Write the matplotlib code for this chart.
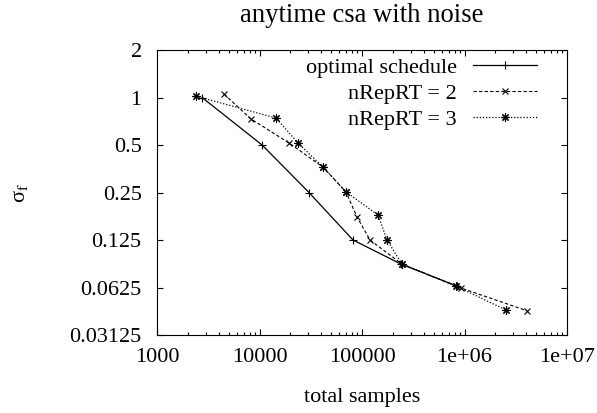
"""anytime csa with noise: sigma_f vs total samples (log-log, gnuplot look)."""

import matplotlib
matplotlib.use("Agg")
import matplotlib.pyplot as plt
from matplotlib.ticker import FixedLocator, FixedFormatter, LogLocator, NullLocator, NullFormatter

# optimal schedule
OPT_SAMPLES = [2750, 10600, 30400, 81700, 240000, 845000]
OPT_SIGMA = [1.0, 0.5, 0.25, 0.125, 0.088, 0.0638]

# nRepRT = 2
REP2_SAMPLES = [4510, 8260, 19400, 41650, 69800, 89400, 119700, 245600, 925000, 4070000]
REP2_SIGMA = [1.05, 0.731, 0.515, 0.362, 0.252, 0.175, 0.125, 0.088, 0.0620, 0.0445]

# nRepRT = 3
REP3_SAMPLES = [2400, 14490, 23750, 41650, 69800, 143300, 175400, 245600, 826000, 2540000]
REP3_SIGMA = [1.02, 0.741, 0.515, 0.362, 0.252, 0.180, 0.125, 0.088, 0.0638, 0.0450]

X_TICKS = [1e3, 1e4, 1e5, 1e6, 1e7]
X_TICKLABELS = ["1000", "10000", "100000", "1e+06", "1e+07"]
Y_TICKS = [2, 1, 0.5, 0.25, 0.125, 0.0625, 0.03125]
Y_TICKLABELS = ["2", "1", "0.5", "0.25", "0.125", "0.0625", "0.03125"]


def main():
    plt.rcParams.update({
        "font.family": ["Liberation Serif", "DejaVu Serif"],
        "mathtext.fontset": "stix",
        "font.size": 16,
    })

    fig = plt.figure(figsize=(5.97, 4.13), dpi=100)
    ax = fig.add_axes([157 / 597, 1 - 335 / 413, 410 / 597, 285 / 413])

    ax.plot(OPT_SAMPLES, OPT_SIGMA, color="black", linestyle="-", linewidth=0.9,
            marker="+", markersize=6, markeredgewidth=0.8, label="optimal schedule")
    ax.plot(REP2_SAMPLES, REP2_SIGMA, color="black", linestyle=(0, (3, 2)), linewidth=0.8,
            marker="x", markersize=5, markeredgewidth=0.8, label="nRepRT = 2")
    ax.plot(REP3_SAMPLES, REP3_SIGMA, color="black", linestyle=(0, (1, 1.5)), linewidth=0.9,
            marker=(8, 2, 0), markersize=6, markeredgewidth=0.8, label="nRepRT = 3")

    ax.set_xscale("log")
    ax.set_yscale("log", base=2)
    ax.set_xlim(1e3, 1e7)
    ax.set_ylim(0.03125, 2)

    ax.xaxis.set_major_locator(FixedLocator(X_TICKS))
    ax.xaxis.set_major_formatter(FixedFormatter(X_TICKLABELS))
    ax.xaxis.set_minor_locator(LogLocator(base=10, subs=range(2, 10), numticks=20))
    ax.xaxis.set_minor_formatter(NullFormatter())
    ax.yaxis.set_major_locator(FixedLocator(Y_TICKS))
    ax.yaxis.set_major_formatter(FixedFormatter(Y_TICKLABELS))
    ax.yaxis.set_minor_locator(NullLocator())

    ax.tick_params(which="both", direction="in", top=True, right=True, width=0.8)
    ax.tick_params(which="major", length=4)
    ax.tick_params(which="minor", length=2.2)
    ax.tick_params(axis="x", which="major", pad=9)
    ax.tick_params(axis="y", which="major", pad=11)
    for spine in ax.spines.values():
        spine.set_linewidth(0.8)

    ax.set_title("anytime csa with noise", pad=20)
    ax.set_xlabel("total samples")
    ax.xaxis.set_label_coords(0.5, -0.185)
    ax.set_ylabel("σ$_\\mathrm{f}$")
    ax.yaxis.set_label_coords(-0.31, 0.5)

    ax.legend(loc="upper right", bbox_to_anchor=(0.927, 0.975), frameon=False,
              markerfirst=False, handlelength=2.9, handletextpad=0.7,
              borderpad=0, borderaxespad=0, labelspacing=0.25)

    fig.savefig("out.png", dpi=100)
    plt.close(fig)


if __name__ == "__main__":
    main()
